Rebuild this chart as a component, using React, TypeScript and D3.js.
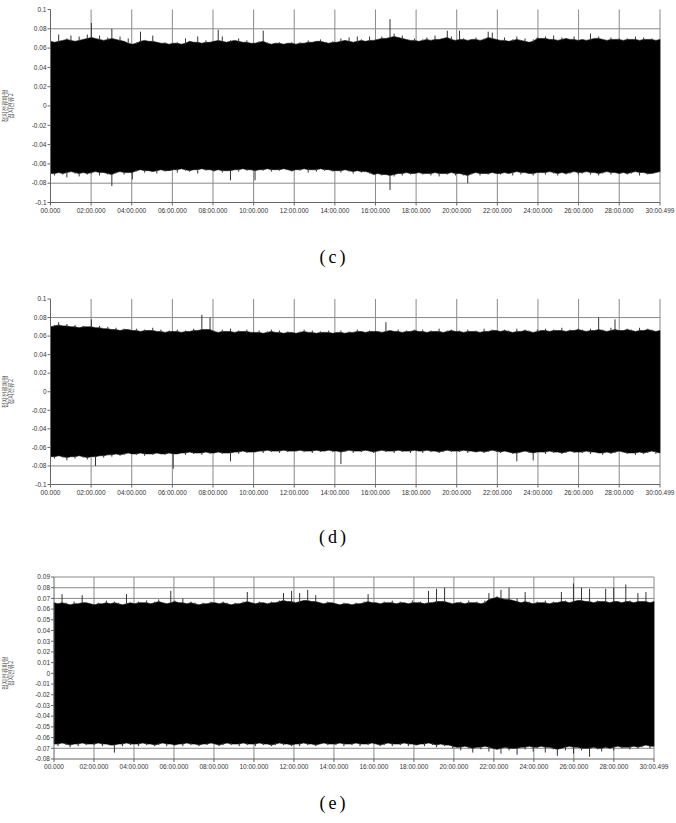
import React from 'react';
import * as d3 from 'd3';

const xTickSeconds = [0, 120, 240, 360, 480, 600, 720, 840, 960, 1080, 1200, 1320, 1440, 1560, 1680, 1800.499];
const xTickLabels = ["00.000", "02:00.000", "04:00.000", "06:00.000", "08:00.000", "10:00.000", "12:00.000", "14:00.000", "16:00.000", "18:00.000", "20:00.000", "22:00.000", "24:00.000", "26:00.000", "28:00.000", "30:00.499"];

const yTicksCD = [0.1, 0.08, 0.06, 0.04, 0.02, 0, -0.02, -0.04, -0.06, -0.08, -0.1];
const yLabelsCD = ["0.1", "0.08", "0.06", "0.04", "0.02", "0", "-0.02", "-0.04", "-0.06", "-0.08", "-0.1"];
const yTicksE = [0.09, 0.08, 0.07, 0.06, 0.05, 0.04, 0.03, 0.02, 0.01, 0, -0.01, -0.02, -0.03, -0.04, -0.05, -0.06, -0.07, -0.08];
const yLabelsE = ["0.09", "0.08", "0.07", "0.06", "0.05", "0.04", "0.03", "0.02", "0.01", "0", "-0.01", "-0.02", "-0.03", "-0.04", "-0.05", "-0.06", "-0.07", "-0.08"];

const gridC = [0.08, -0.08];
const gridD = [0.08, -0.08];
const gridE = [0.09, 0.08, 0.07, -0.07];

const axisTitle = ["접지전류파형", "접지전류2"];
const captions = ["(c)", "(d)", "(e)"];

// envelope maxima / minima per 12 s bin (150 bins per panel)
const upperC = [
  .072, .066, .074, .068, .070, .073, .067, .072, .069, .074,
  .086, .070, .073, .068, .071, .080, .069, .072, .067, .070,
  .064, .066, .077, .068, .067, .073, .066, .065, .066, .064,
  .065, .066, .064, .070, .067, .066, .072, .065, .068, .066,
  .067, .079, .072, .066, .068, .068, .070, .066, .068, .065,
  .065, .067, .078, .066, .064, .065, .066, .064, .065, .066,
  .064, .066, .065, .068, .066, .067, .069, .066, .065, .067,
  .066, .070, .068, .071, .066, .072, .069, .067, .072, .068,
  .069, .072, .070, .090, .075, .071, .073, .069, .068, .070,
  .067, .069, .071, .068, .073, .069, .070, .078, .072, .068,
  .078, .070, .068, .069, .071, .068, .070, .077, .076, .069,
  .068, .071, .067, .069, .072, .068, .070, .066, .069, .071,
  .070, .072, .069, .073, .068, .071, .070, .069, .072, .068,
  .069, .068, .075, .070, .072, .069, .068, .071, .069, .070,
  .068, .070, .069, .072, .068, .071, .069, .070, .068, .069,
];
const lowerC = [
  -.070, -.072, -.069, -.071, -.074, -.068, -.070, -.073, -.069, -.071,
  -.070, -.068, -.072, -.069, -.071, -.083, -.070, -.068, -.071, -.069,
  -.076, -.068, -.066, -.069, -.067, -.068, -.070, -.066, -.068, -.067,
  -.066, -.069, -.065, -.067, -.068, -.066, -.070, -.065, -.067, -.066,
  -.068, -.066, -.069, -.067, -.077, -.066, -.068, -.065, -.067, -.066,
  -.077, -.066, -.067, -.065, -.068, -.066, -.067, -.065, -.066, -.068,
  -.066, -.067, -.065, -.069, -.066, -.068, -.065, -.067, -.066, -.068,
  -.067, -.069, -.066, -.068, -.070, -.067, -.069, -.068, -.070, -.071,
  -.070, -.072, -.071, -.087, -.073, -.070, -.072, -.069, -.071, -.070,
  -.069, -.071, -.070, -.072, -.069, -.073, -.070, -.071, -.069, -.072,
  -.070, -.072, -.080, -.071, -.069, -.072, -.070, -.071, -.069, -.070,
  -.071, -.069, -.070, -.072, -.068, -.071, -.069, -.070, -.072, -.069,
  -.069, -.071, -.068, -.070, -.072, -.069, -.071, -.070, -.068, -.071,
  -.070, -.068, -.071, -.069, -.072, -.070, -.068, -.071, -.069, -.070,
  -.069, -.071, -.070, -.068, -.072, -.069, -.071, -.070, -.069, -.068,
];

const upperD = [
  .070, .072, .075, .071, .073, .070, .072, .069, .071, .070,
  .078, .069, .071, .068, .070, .067, .069, .066, .068, .067,
  .066, .068, .065, .067, .066, .069, .065, .067, .064, .066,
  .065, .067, .064, .066, .065, .068, .066, .083, .067, .080,
  .066, .064, .067, .065, .068, .064, .066, .065, .067, .064,
  .064, .066, .063, .065, .067, .064, .066, .063, .065, .064,
  .063, .065, .067, .064, .066, .063, .065, .064, .066, .063,
  .064, .066, .063, .065, .064, .067, .065, .064, .066, .065,
  .065, .064, .075, .066, .065, .067, .064, .066, .065, .067,
  .065, .067, .064, .066, .065, .068, .064, .066, .067, .065,
  .066, .064, .067, .065, .066, .064, .068, .065, .067, .066,
  .065, .067, .066, .064, .068, .065, .067, .066, .064, .067,
  .066, .068, .065, .067, .066, .069, .065, .067, .066, .068,
  .067, .065, .068, .066, .080, .067, .065, .069, .078, .066,
  .066, .068, .067, .065, .069, .066, .068, .067, .065, .066,
];
const lowerD = [
  -.070, -.072, -.069, -.071, -.074, -.070, -.072, -.069, -.071, -.073,
  -.070, -.080, -.069, -.071, -.068, -.070, -.067, -.069, -.068, -.066,
  -.067, -.068, -.066, -.069, -.067, -.068, -.066, -.067, -.068, -.066,
  -.083, -.067, -.066, -.068, -.065, -.067, -.066, -.068, -.065, -.067,
  -.066, -.065, -.067, -.066, -.075, -.065, -.067, -.064, -.066, -.065,
  -.065, -.064, -.066, -.063, -.065, -.064, -.066, -.063, -.065, -.064,
  -.064, -.063, -.065, -.064, -.066, -.063, -.065, -.064, -.063, -.065,
  -.064, -.078, -.065, -.063, -.066, -.064, -.065, -.063, -.064, -.066,
  -.064, -.063, -.065, -.064, -.066, -.063, -.065, -.064, -.066, -.063,
  -.064, -.066, -.063, -.065, -.064, -.066, -.065, -.063, -.065, -.064,
  -.065, -.063, -.066, -.064, -.065, -.064, -.066, -.065, -.063, -.065,
  -.066, -.064, -.065, -.067, -.075, -.065, -.064, -.066, -.074, -.065,
  -.065, -.067, -.064, -.066, -.065, -.067, -.066, -.064, -.066, -.065,
  -.066, -.064, -.067, -.065, -.066, -.068, -.065, -.067, -.066, -.064,
  -.065, -.067, -.066, -.068, -.065, -.067, -.066, -.064, -.067, -.066,
];

const upperE = [
  .066, .065, .074, .066, .064, .067, .065, .073, .066, .065,
  .064, .066, .065, .068, .065, .067, .066, .064, .074, .066,
  .065, .067, .066, .068, .065, .067, .069, .066, .065, .077,
  .068, .066, .070, .065, .067, .066, .064, .066, .065, .067,
  .066, .065, .067, .066, .064, .066, .065, .067, .076, .066,
  .065, .067, .066, .065, .067, .066, .068, .075, .067, .077,
  .066, .075, .068, .078, .067, .073, .066, .065, .067, .066,
  .065, .064, .066, .065, .064, .066, .065, .067, .074, .066,
  .066, .065, .067, .066, .068, .065, .067, .066, .065, .068,
  .066, .067, .065, .077, .066, .079, .067, .080, .066, .065,
  .066, .067, .065, .068, .066, .067, .065, .068, .075, .070,
  .072, .078, .069, .080, .068, .070, .066, .076, .067, .065,
  .067, .066, .068, .065, .067, .066, .076, .068, .066, .084,
  .068, .080, .067, .079, .066, .068, .067, .079, .066, .080,
  .067, .066, .083, .068, .066, .075, .067, .076, .066, .067,
];
const lowerE = [
  -.066, -.068, -.065, -.067, -.069, -.066, -.068, -.065, -.067, -.066,
  -.067, -.065, -.068, -.066, -.067, -.074, -.066, -.068, -.065, -.067,
  -.066, -.068, -.065, -.067, -.066, -.068, -.067, -.065, -.068, -.066,
  -.067, -.066, -.068, -.065, -.067, -.066, -.068, -.066, -.067, -.065,
  -.066, -.068, -.067, -.065, -.067, -.066, -.068, -.065, -.067, -.066,
  -.068, -.065, -.067, -.066, -.068, -.067, -.065, -.067, -.066, -.068,
  -.066, -.068, -.065, -.067, -.066, -.068, -.066, -.065, -.067, -.066,
  -.067, -.065, -.068, -.066, -.067, -.065, -.068, -.066, -.067, -.065,
  -.066, -.068, -.067, -.065, -.068, -.066, -.067, -.065, -.068, -.066,
  -.067, -.066, -.068, -.065, -.067, -.069, -.066, -.068, -.067, -.070,
  -.069, -.072, -.068, -.070, -.074, -.069, -.071, -.068, -.073, -.070,
  -.071, -.075, -.069, -.072, -.070, -.076, -.069, -.071, -.068, -.073,
  -.070, -.068, -.074, -.069, -.071, -.077, -.070, -.072, -.068, -.075,
  -.069, -.072, -.070, -.078, -.069, -.071, -.073, -.069, -.070, -.072,
  -.068, -.070, -.069, -.071, -.068, -.070, -.069, -.067, -.070, -.068,
];

const DURATION = 1800.499;

type PanelProps = {
  upper: number[];
  lower: number[];
  left: number;
  right: number;
  top: number;
  bottom: number;
  yMax: number;
  yMin: number;
  yTicks: number[];
  yLabels: string[];
  grid: number[];
  caption: string;
  captionY: number;
};

function Panel(p: PanelProps) {
  const x = d3.scaleLinear().domain([0, DURATION]).range([p.left, p.right]);
  const y = d3.scaleLinear().domain([p.yMin, p.yMax]).range([p.bottom, p.top]);
  const n = p.upper.length;
  const t = (i: number) => (i * DURATION) / (n - 1);
  const nb = (arr: number[], i: number) => [arr[Math.max(0, i - 1)], arr[Math.min(n - 1, i + 1)]];
  // dense body: value capped just above the neighbours so tall spikes stay thin lines
  const bodyUp = p.upper.map((v, i) => Math.min(v, Math.min(...nb(p.upper, i)) + 0.001));
  const bodyLo = p.lower.map((v, i) => Math.max(v, Math.max(...nb(p.lower, i)) - 0.001));
  const area = d3
    .area<number>()
    .x((_, i) => x(t(i)))
    .y0((_, i) => y(bodyLo[i]))
    .y1((_, i) => y(bodyUp[i]))
    .curve(d3.curveLinear);
  const font = '"Liberation Sans", Arial, sans-serif';
  const midY = y(0);
  return (
    <g>
      {xTickSeconds.slice(1).map((s, i) => (
        <line key={'vg' + i} x1={x(s)} x2={x(s)} y1={p.top} y2={p.bottom} stroke="#8a8a8a" strokeWidth={1} />
      ))}
      {p.grid.map((g, i) => (
        <line key={'hg' + i} x1={p.left} x2={p.right} y1={y(g)} y2={y(g)} stroke="#8a8a8a" strokeWidth={1} />
      ))}
      <path d={area(p.upper) || ''} fill="#000" stroke="#111" strokeWidth={0.6} />
      {p.upper.map((v, i) =>
        v > bodyUp[i] ? (
          <line key={'su' + i} x1={x(t(i))} x2={x(t(i))} y1={y(bodyUp[i]) + 1} y2={y(v)} stroke="#333" strokeWidth={1} />
        ) : null
      )}
      {p.lower.map((v, i) =>
        v < bodyLo[i] ? (
          <line key={'sl' + i} x1={x(t(i))} x2={x(t(i))} y1={y(bodyLo[i]) - 1} y2={y(v)} stroke="#333" strokeWidth={1} />
        ) : null
      )}
      <line x1={p.left} x2={p.left} y1={p.top} y2={p.bottom} stroke="#666" strokeWidth={1} />
      <line x1={p.left} x2={p.right} y1={p.bottom} y2={p.bottom} stroke="#666" strokeWidth={1} />
      {p.yTicks.map((v, i) => (
        <g key={'yt' + i}>
          <line x1={p.left - 3} x2={p.left} y1={y(v)} y2={y(v)} stroke="#666" />
          <text x={p.left - 4} y={y(v)} dy="0.35em" textAnchor="end" fontSize={6.5} fontFamily={font} fill="#333">
            {p.yLabels[i]}
          </text>
        </g>
      ))}
      {xTickSeconds.map((s, i) => (
        <g key={'xt' + i}>
          <line x1={x(s)} x2={x(s)} y1={p.bottom} y2={p.bottom + 3} stroke="#666" />
          <text x={x(s)} y={p.bottom + 10} textAnchor="middle" fontSize={6.5} fontFamily={font} fill="#333">
            {xTickLabels[i]}
          </text>
        </g>
      ))}
      <g transform={`translate(8, ${midY}) rotate(-90)`}>
        <text x={0} y={-1} textAnchor="middle" fontSize={6} fontFamily='"Noto Sans CJK KR", sans-serif' fill="#444">
          {axisTitle[0]}
        </text>
        <text x={0} y={5} textAnchor="middle" fontSize={6} fontFamily='"Noto Sans CJK KR", sans-serif' fill="#444">
          {axisTitle[1]}
        </text>
      </g>
      <text x={334} y={p.captionY} textAnchor="middle" fontSize={18} letterSpacing={3} fontFamily='"Liberation Serif", "DejaVu Serif", serif' fill="#000">
        {p.caption}
      </text>
    </g>
  );
}

export default function App() {
  return (
    <svg width={676} height={823} style={{ position: 'absolute', left: 0, top: 0, background: '#fff' }}>
      <rect x={0} y={0} width={676} height={823} fill="#fff" />
      <Panel upper={upperC} lower={lowerC} left={50.5} right={660} top={9.5} bottom={202.5} yMax={0.1} yMin={-0.1}
        yTicks={yTicksCD} yLabels={yLabelsCD} grid={gridC} caption={captions[0]} captionY={263} />
      <Panel upper={upperD} lower={lowerD} left={50.5} right={660} top={299} bottom={484.5} yMax={0.1} yMin={-0.1}
        yTicks={yTicksCD} yLabels={yLabelsCD} grid={gridD} caption={captions[1]} captionY={543} />
      <Panel upper={upperE} lower={lowerE} left={54} right={654} top={577} bottom={759} yMax={0.09} yMin={-0.08}
        yTicks={yTicksE} yLabels={yLabelsE} grid={gridE} caption={captions[2]} captionY={809} />
    </svg>
  );
}
